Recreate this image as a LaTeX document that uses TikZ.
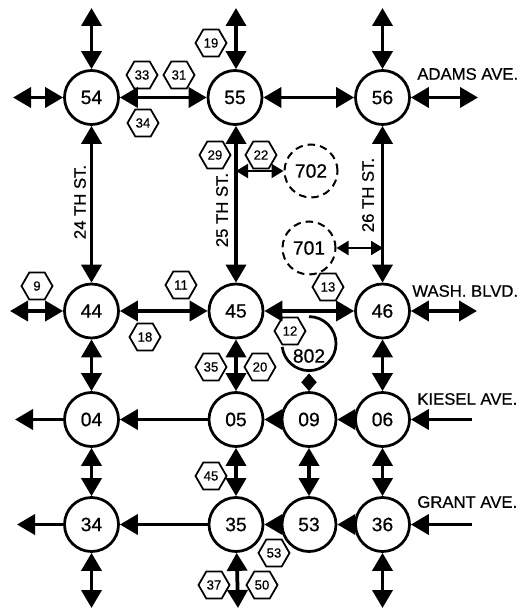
\documentclass[tikz,border=0pt]{standalone}
\usepackage{fontspec}
\setmainfont{Liberation Sans}
\newfontfamily\rotulo[FakeBold=0.6]{Liberation Sans}
\usetikzlibrary{shapes.geometric,arrows.meta}
\tikzset{
  cruce/.style    = {draw, circle, line width=0.55mm, minimum size=10.8mm, inner sep=0pt, font=\rotulo\fontsize{11}{12}\selectfont},
  futuro/.style   = {draw, circle, line width=0.4mm, dash pattern=on 1.5mm off 1mm, minimum size=10.6mm, inner sep=0pt, font=\rotulo\fontsize{11}{12}\selectfont},
  hexa/.style     = {draw, regular polygon, regular polygon sides=6, line width=0.35mm, minimum size=6.2mm, inner sep=0pt, font=\rotulo\fontsize{7.5}{8}\selectfont},
  calle/.style    = {font=\rotulo\fontsize{9.5}{10}\selectfont},
  flecha/.style   = {line width=0.75mm, {Triangle[length=3.6mm,width=4mm]}-{Triangle[length=3.6mm,width=4mm]}},
  sentido/.style  = {line width=0.75mm, -{Triangle[length=3.6mm,width=4mm]}},
  fina/.style     = {line width=0.4mm, {Triangle[length=2.4mm,width=2.8mm]}-{Triangle[length=2.4mm,width=2.8mm]}},
  corta/.style    = {line width=0.6mm, {Triangle[length=1.8mm,width=3mm]}-{Triangle[length=1.8mm,width=3mm]}}
}
\begin{document}
\begin{tikzpicture}[x=0.2mm, y=-0.2mm]
    \useasboundingbox (0,0) rectangle (520,609);

    \node[cruce] (n54) at (91.5,97.5) {54};
    \node[cruce] (n55) at (235,97.5) {55};
    \node[cruce] (n56) at (382.5,97.5) {56};
    \node[cruce] (n44) at (91.5,311) {44};
    \node[cruce] (n45) at (236,311) {45};
    \node[cruce] (n46) at (382.5,311) {46};
    \node[cruce] (n04) at (91.5,419.5) {04};
    \node[cruce] (n05) at (236,419.5) {05};
    \node[cruce] (n09) at (309,419.5) {09};
    \node[cruce] (n06) at (382.5,419.5) {06};
    \node[cruce] (n34) at (91.5,524.5) {34};
    \node[cruce] (n35) at (236,524.5) {35};
    \node[cruce] (n53) at (309,524.5) {53};
    \node[cruce] (n36) at (382.5,524.5) {36};

    \node[futuro] (n702) at (311,171) {702};
    \node[futuro] (n701) at (309,248) {701};
    \node[cruce, draw=none] (n802) at (309,345) {};
    \node[font=\rotulo\fontsize{11}{12}\selectfont] (t802) at (309,356) {802};
    \draw[line width=0.55mm] (n802.90) arc[start angle=90, end angle=-173, radius=5.4mm];

    \coordinate (arriba54) at (91.5,8);
    \coordinate (arriba55) at (236,8);
    \coordinate (arriba56) at (382.5,8);
    \coordinate (izq54) at (13,97.5);
    \coordinate (izq44) at (10,311);
    \coordinate (izq04) at (15,419.5);
    \coordinate (izq34) at (17,524.5);
    \coordinate (der56) at (478,97.5);
    \coordinate (der46) at (477,311);
    \coordinate (der06) at (472,419.5);
    \coordinate (der36) at (472,524.5);
    \coordinate (abajo34) at (91.5,608);
    \coordinate (abajo35) at (238,608);
    \coordinate (abajo36) at (382.5,608);
    \coordinate (st25) at (236,171);
    \coordinate (st26) at (383,248);

    \draw[flecha] (n54) -- (arriba54);
    \draw[flecha] ([xshift=0.2mm]n55.north) -- (arriba55);
    \draw[flecha] (n56) -- (arriba56);
    \draw[flecha] (n54) -- (izq54);
    \draw[flecha] (n44) -- (izq44);
    \draw[flecha] (n56) -- (der56);
    \draw[flecha] (n46) -- (der46);
    \draw[flecha] (n34) -- (abajo34);
    \draw[flecha] (n35) -- (abajo35);
    \draw[flecha] (n36) -- (abajo36);

    \draw[flecha] (n54) -- (n55);
    \draw[flecha] (n55) -- (n56);
    \draw[flecha] (n44) -- (n45);
    \draw[flecha] (n45) -- (n46);
    \draw[flecha] (n54) -- (n44);
    \draw[flecha] ([xshift=0.2mm]n55.south) -- (n45);
    \draw[flecha] (n56) -- (n46);
    \draw[flecha] (n44) -- (n04);
    \draw[flecha] (n45) -- (n05);
    \draw[flecha] (n46) -- (n06);
    \draw[flecha] (n04) -- (n34);
    \draw[flecha] (n05) -- (n35);
    \draw[flecha] (n09) -- (n53);
    \draw[flecha] (n06) -- (n36);

    \draw[sentido] (n04) -- (izq04);
    \draw[sentido] (n05) -- (n04);
    \draw[sentido] (n09) -- (n05);
    \draw[sentido] (n06) -- (n09);
    \draw[sentido] (der06) -- (n06);
    \draw[sentido] (n34) -- (izq34);
    \draw[sentido] (n35) -- (n34);
    \draw[sentido] (n53) -- (n35);
    \draw[sentido] (n36) -- (n53);
    \draw[sentido] (der36) -- (n36);

    \draw[fina] (st25) -- (n702);
    \draw[fina] (n701) -- (st26);
    \draw[corta] (n802) -- (n09);

    \node[hexa] (h33) at (142,75) {33};
    \node[hexa] (h31) at (179,75) {31};
    \node[hexa] (h34a) at (143,123) {34};
    \node[hexa] (h19) at (211,43) {19};
    \node[hexa] (h29) at (215,155) {29};
    \node[hexa] (h22) at (261,155) {22};
    \node[hexa] (h13) at (328,287) {13};
    \node[hexa] (h12) at (290,331) {12};
    \node[hexa] (h11) at (181,285) {11};
    \node[hexa] (h18) at (145,337) {18};
    \node[hexa] (h9) at (37,286) {9};
    \node[hexa] (h35) at (211,367) {35};
    \node[hexa] (h20) at (260,367) {20};
    \node[hexa] (h45) at (211,476) {45};
    \node[hexa] (h53) at (274,553) {53};
    \node[hexa] (h37) at (214,585) {37};
    \node[hexa] (h50) at (262,585) {50};

    \node[calle, rotate=90] (st24t) at (80,202) {24 TH ST.};
    \node[calle, rotate=90] (st25t) at (222,210) {25 TH ST.};
    \node[calle, rotate=90] (st26t) at (368,195) {26 TH ST.};
    \node[calle, anchor=west, inner sep=0pt] (adams) at (417,74) {ADAMS AVE.};
    \node[calle, anchor=west, inner sep=0pt] (wash) at (412,291) {WASH. BLVD.};
    \node[calle, anchor=west, inner sep=0pt] (kiesel) at (417,399) {KIESEL AVE.};
    \node[calle, anchor=west, inner sep=0pt] (grant) at (417,502) {GRANT AVE.};
\end{tikzpicture}
\end{document}
